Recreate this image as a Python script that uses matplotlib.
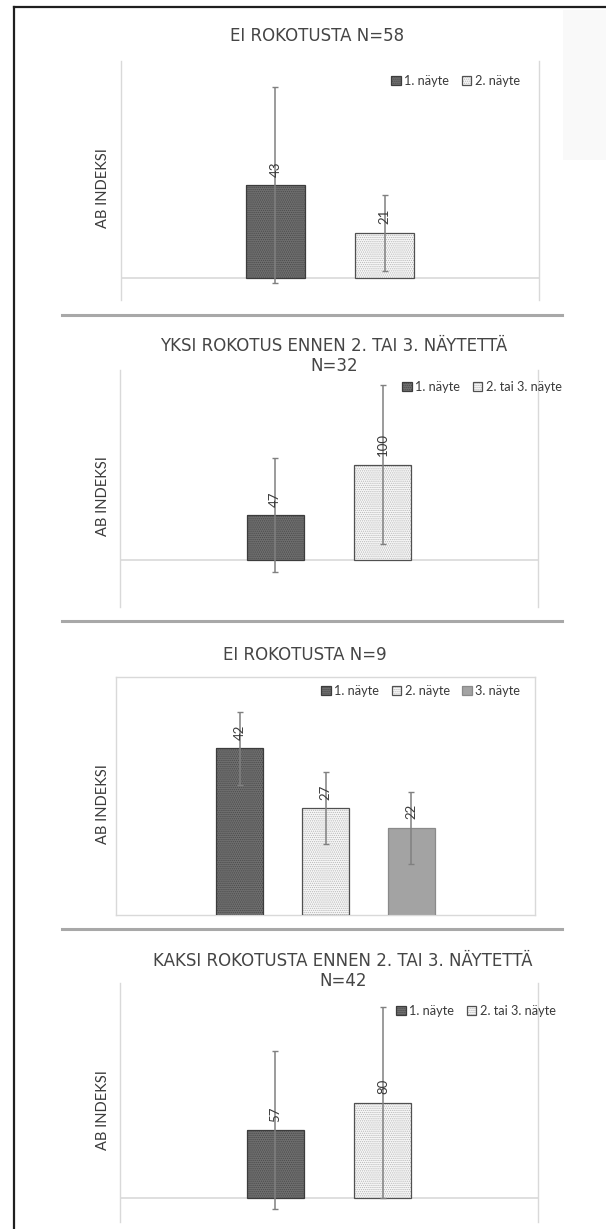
import numpy as np
import matplotlib
matplotlib.use("Agg")
import matplotlib.pyplot as plt
import matplotlib.patches as mpatches
from matplotlib.lines import Line2D

plt.rcParams['font.family'] = ['Lato', 'DejaVu Sans']
plt.rcParams['hatch.linewidth'] = 0.6

W, H = 606, 1229
TXT = '#3a3a3a'
GRID = '#d9d9d9'

# --- data ---
titles = ["EI ROKOTUSTA N=58",
          "YKSI ROKOTUS ENNEN 2. TAI 3. NÄYTETTÄ\nN=32",
          "EI ROKOTUSTA N=9",
          "KAKSI ROKOTUSTA ENNEN 2. TAI 3. NÄYTETTÄ\nN=42"]
series_1 = ["1. näyte", "2. näyte"]
series_2 = ["1. näyte", "2. tai 3. näyte"]
series_3 = ["1. näyte", "2. näyte", "3. näyte"]
series_4 = ["1. näyte", "2. tai 3. näyte"]
means_1 = [43, 21]
err_1 = [45, 17.5]
means_2 = [47, 100]
err_2 = [60, 84]
means_3 = [42, 27, 22]
err_3 = [9.2, 9.0, 9.1]
means_4 = [57, 80]
err_4 = [66, 80]
ylabel = "AB INDEKSI"

# fill, hatch colour, hatch, outline
styles = [('#6f6f6f', '#4a4a4a', '........', '#3c3c3c'),
          ('#f7f7f7', '#b8b8b8', '........', '#505050'),
          ('#a3a3a3', None, None, '#8a8a8a')]


def px_box(x0, y0, x1, y1):
    return [x0 / W, 1 - y1 / H, (x1 - x0) / W, (y1 - y0) / H]


def fx(x):
    return x / W


def fy(y):
    return 1 - y / H


fig = plt.figure(figsize=(W / 100, H / 100), dpi=100)

# panel layout: plot box (px), y-limits, bar width / step (category units),
# title centre, legend anchor, full border or not
panels = [
    dict(box=(121, 61, 539, 300), ylim=(-10, 100), width=0.139, step=0.261,
         title_xy=(317, 36), leg_xy=(385, 81), border=False,
         names=series_1, means=means_1, errs=err_1),
    dict(box=(120, 370, 538, 607), ylim=(-50, 200), width=0.136, step=0.258,
         title_xy=(334, 356), leg_xy=(396, 387), border=False,
         names=series_2, means=means_2, errs=err_2),
    dict(box=(116, 677, 535, 915), ylim=(0, 60), width=0.112, step=0.205,
         title_xy=(305, 655), leg_xy=(315, 691), border=True,
         names=series_3, means=means_3, errs=err_3),
    dict(box=(120, 983, 538, 1222), ylim=(-20, 180), width=0.136, step=0.258,
         title_xy=(343, 971), leg_xy=(390, 1011), border=False,
         names=series_4, means=means_4, errs=err_4),
]

for k, p in enumerate(panels):
    ax = fig.add_axes(px_box(*p['box']))
    n = len(p['means'])
    xs = (np.arange(n) - (n - 1) / 2) * p['step']
    handles = []
    for i in range(n):
        fill, hcol, hatch, edge = styles[i]
        if hatch:
            b1 = ax.bar(xs[i], p['means'][i], p['width'], color=fill,
                        edgecolor=hcol, hatch=hatch, linewidth=0, zorder=2)
        else:
            b1 = ax.bar(xs[i], p['means'][i], p['width'], color=fill,
                        linewidth=0, zorder=2)
        b2 = ax.bar(xs[i], p['means'][i], p['width'], facecolor='none',
                    edgecolor=edge, linewidth=0.9, zorder=3)
        handles.append((b1[0], b2[0]))
        ax.errorbar(xs[i], p['means'][i], yerr=p['errs'][i], fmt='none',
                    ecolor='#808080', elinewidth=1.1, capsize=2.5,
                    capthick=1.0, zorder=4)
        ax.annotate(str(p['means'][i]), (xs[i], p['means'][i]),
                    xytext=(0, 6), textcoords='offset points',
                    rotation=90, ha='center', va='bottom',
                    fontsize=9.5, color=TXT, zorder=5)

    ax.set_xlim(-0.5, 0.5)
    ax.set_ylim(*p['ylim'])
    ax.set_xticks([])
    ax.set_yticks([])
    for s in ax.spines.values():
        s.set_color(GRID)
        s.set_linewidth(1.0)
    if not p['border']:
        ax.spines['top'].set_visible(False)
        ax.spines['bottom'].set_visible(False)
        ax.axhline(0, color=GRID, lw=1.2, zorder=1)

    tx, ty = p['title_xy']
    fig.text(fx(tx), fy(ty), titles[k], ha='center', va='center',
             fontsize=12, color='#454545', linespacing=1.2,
             family=['DejaVu Sans'])

    y0, y1 = p['box'][1], p['box'][3]
    fig.text(fx(103), fy((y0 + y1) / 2 + 8), ylabel, rotation=90,
             ha='center', va='center', fontsize=10.5, color=TXT)

    lx, ly = p['leg_xy']
    fig.legend(handles, p['names'], loc='center left',
               bbox_to_anchor=(fx(lx), fy(ly)), ncol=n, frameon=False,
               fontsize=9.2, handlelength=0.75, handleheight=0.75,
               handletextpad=0.25, columnspacing=1.0, borderpad=0,
               labelcolor=TXT)

# page frame and separators
fig.add_artist(Line2D([fx(14), fx(14)], [fy(7), 0], color='#1f1f1f', lw=1.6))
fig.add_artist(Line2D([fx(14), 1], [fy(7), fy(7)], color='#1f1f1f', lw=1.6))
for ys in (315, 621, 929):
    fig.add_artist(Line2D([fx(62), fx(562)], [fy(ys), fy(ys)],
                          color='#a8a8a8', lw=2.2))
fig.add_artist(mpatches.Rectangle((fx(563), fy(160)), fx(43), 150 / H,
                                  transform=fig.transFigure,
                                  color='#f9f9f9', lw=0, zorder=0))

fig.savefig("out.png", dpi=100)
